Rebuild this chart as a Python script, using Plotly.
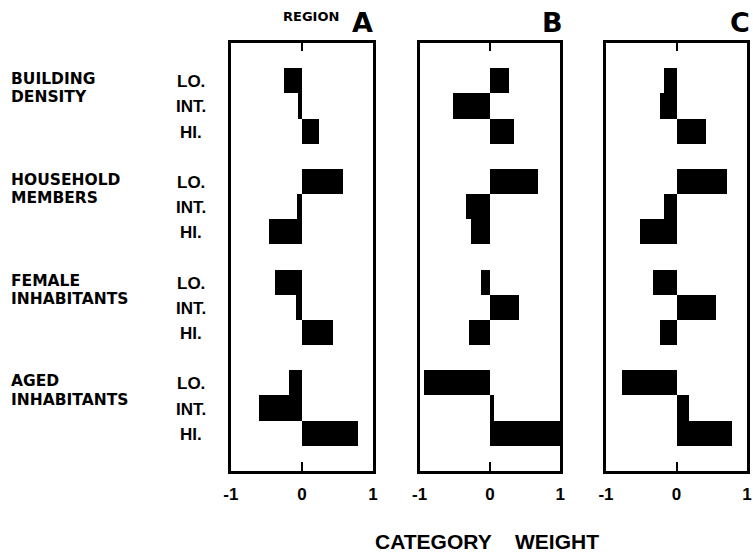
import plotly.graph_objects as go

# ---------------- data ----------------
variables = ["BUILDING\nDENSITY", "HOUSEHOLD\nMEMBERS", "FEMALE\nINHABITANTS", "AGED\nINHABITANTS"]
levels = ["LO.", "INT.", "HI."]
regions = ["A", "B", "C"]
weights_a = [-0.25, -0.06, 0.23, 0.57, -0.07, -0.46, -0.38, -0.09, 0.43, -0.18, -0.61, 0.79]
weights_b = [0.27, -0.53, 0.34, 0.67, -0.35, -0.28, -0.14, 0.40, -0.30, -0.95, 0.05, 1.00]
weights_c = [-0.18, -0.24, 0.42, 0.71, -0.18, -0.52, -0.34, 0.56, -0.24, -0.77, 0.17, 0.78]
tick_values = [-1, 0, 1]
tick_labels = ["-1", "0", "1"]
axis_title = "CATEGORY\u00a0\u00a0\u00a0\u00a0WEIGHT"
region_word = "REGION"

# ---------------- layout helpers ----------------
W, H = 753, 556
def px(x):
    return x / W
def py(y):
    return 1 - y / H

n_levels = len(levels)
rows = []
for g in range(len(variables)):
    for l in range(n_levels):
        rows.append(g * (n_levels + 1) + l + 2)
n_rows = len(variables) * (n_levels + 1) + 1

x_domains = [(226.7, 371.5), (418.8, 562.0), (608.5, 752.0)]
y_dom = [py(470.5), py(42.5)]

fig = go.Figure()
all_weights = [weights_a, weights_b, weights_c]
for i, w in enumerate(all_weights):
    sfx = "" if i == 0 else str(i + 1)
    fig.add_trace(go.Bar(
        x=w, y=rows, orientation="h", width=1.0,
        marker=dict(color="black", line=dict(width=0)),
        xaxis="x" + sfx, yaxis="y" + sfx, showlegend=False,
        hoverinfo="x+y",
    ))

label_font = dict(family="Liberation Sans, Arial, sans-serif", size=17, color="black", weight="bold")
for i in range(3):
    sfx = "" if i == 0 else str(i + 1)
    fig.update_layout({
        "xaxis" + sfx: dict(
            domain=[px(x_domains[i][0]), px(x_domains[i][1])],
            range=[-1, 1], anchor="y" + sfx,
            showline=True, linewidth=2.5, linecolor="black", mirror="ticks",
            ticks="inside", ticklen=9, tickwidth=2, tickcolor="black",
            tickvals=tick_values, ticktext=tick_labels,
            tickfont=label_font, ticklabelstandoff=6,
            showgrid=False, zeroline=False, fixedrange=True,
        ),
        "yaxis" + sfx: dict(
            domain=y_dom, range=[n_rows + 0.5, 0.5], anchor="x" + sfx,
            showline=True, linewidth=2.5, linecolor="black", mirror=True,
            showticklabels=False, ticks="", showgrid=False, zeroline=False,
            fixedrange=True,
        ),
    })

annotations = []
group_font = dict(family="DejaVu Sans, sans-serif", size=15.5, color="black", weight="bold")
for g, name in enumerate(variables):
    lo_row = g * (n_levels + 1) + 2
    for k, line in enumerate(name.split("\n")):
        annotations.append(dict(
            text=line, xref="paper", yref="y", x=px(2), y=lo_row - 0.04 + 0.72 * k,
            xanchor="left", yanchor="middle", showarrow=False, font=group_font,
            borderpad=0,
        ))
    for l, lev in enumerate(levels):
        annotations.append(dict(
            text=lev, xref="paper", yref="y", x=px(186), y=lo_row + l + 0.06,
            xanchor="center", yanchor="middle", showarrow=False, font=label_font,
        ))

letter_font = dict(family="DejaVu Sans, sans-serif", size=27, color="black", weight="bold")
letter_x = [(373, "right"), (567, "right"), (733, "left")]
for i, r in enumerate(regions):
    annotations.append(dict(
        text=r, xref="paper", yref="paper", x=px(letter_x[i][0]), y=py(23),
        xanchor=letter_x[i][1], yanchor="middle", showarrow=False, font=letter_font,
    ))
annotations.append(dict(
    text=region_word, xref="paper", yref="paper", x=px(308), y=py(16),
    xanchor="center", yanchor="middle", showarrow=False,
    font=dict(family="DejaVu Sans, sans-serif", size=13, color="black", weight="bold"),
))
annotations.append(dict(
    text=axis_title, xref="paper", yref="paper", x=px(487), y=py(541.5),
    xanchor="center", yanchor="middle", showarrow=False,
    font=dict(family="Liberation Sans, Arial, sans-serif", size=21, color="black", weight="bold"),
))

fig.update_layout(
    width=W, height=H, margin=dict(l=0, r=0, t=0, b=0),
    paper_bgcolor="white", plot_bgcolor="white",
    annotations=annotations, bargap=0,
)

fig.write_html("out.html", post_script="document.body.style.margin='0px';",
               config={"displayModeBar": False})
